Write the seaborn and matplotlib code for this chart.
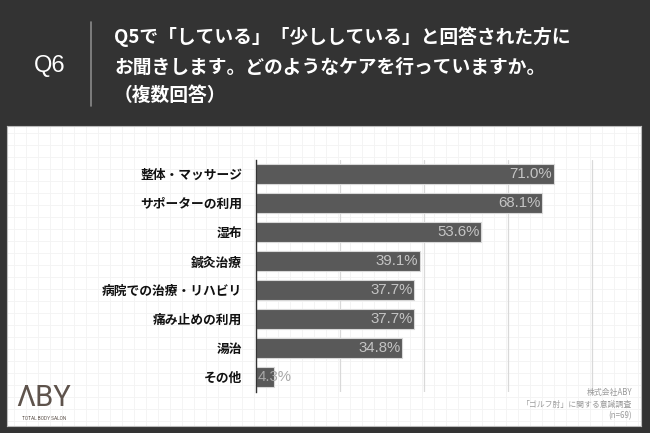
import matplotlib
matplotlib.use("Agg")
import matplotlib.pyplot as plt
import seaborn as sns
import pandas as pd
import numpy as np

# ---- data ----
categories = ["整体・マッサージ", "サポーターの利用", "湿布", "鍼灸治療",
              "病院での治療・リハビリ", "痛み止めの利用", "湯治", "その他"]
values = [71.0, 68.1, 53.6, 39.1, 37.7, 37.7, 34.8, 4.3]
value_labels = ["71.0%", "68.1%", "53.6%", "39.1%", "37.7%", "37.7%", "34.8%", "4.3%"]
x_ticks = [0, 20, 40, 60, 80]
title_lines = ["Q5で「している」「少ししている」と回答された方に",
               "お聞きします。どのようなケアを行っていますか。",
               "（複数回答）"]
question_no = "Q6"
footer_lines = ["株式会社ABY", "「ゴルフ肘」に関する意識調査", "(n=69)"]

sns.set_theme(style="white")
JP = ["Noto Sans CJK JP", "DejaVu Sans"]
plt.rcParams["font.family"] = JP

W, H = 650, 433
fig = plt.figure(figsize=(W / 100, H / 100), dpi=100, facecolor="#333333")


def px_axes(x0, y0, x1, y1, **kw):
    return fig.add_axes([x0 / W, 1 - y1 / H, (x1 - x0) / W, (y1 - y0) / H], **kw)


# white panel + faint graph-paper background (drawn in a background axes)
bg = px_axes(7, 126, 641, 426)
bg.set_zorder(-5)
bg.set_xlim(0, 634)
bg.set_ylim(300, 0)
bg.set_facecolor("white")
for xx in np.arange(7, 634, 12):
    bg.axvline(xx, color="#f3f3f3", lw=0.6)
for yy in np.arange(7, 300, 12):
    bg.axhline(yy, color="#f3f3f3", lw=0.6)
bg.set_xticks([])
bg.set_yticks([])
for s in bg.spines.values():
    s.set_color("#bbbbbb")
    s.set_linewidth(0.8)

# header
fig.text(49.5 / W, 1 - 66 / H, question_no, color="white", fontsize=17,
         ha="center", va="center", family=["Liberation Sans", "DejaVu Sans"])
fig.add_artist(plt.Line2D([91 / W, 91 / W], [1 - 22 / H, 1 - 106 / H],
                          transform=fig.transFigure, color="#8a8a8a", lw=1.2))
for i, (line, yy) in enumerate(zip(title_lines, [37, 67, 95])):
    fig.text(114 / W, 1 - yy / H, line, color="white", fontsize=13.5,
             fontweight="bold", ha="left", va="center", family=JP)

# main chart
df = pd.DataFrame({"category": categories, "value": values})
ax = px_axes(256, 159.5, 638, 391.5)
ax.set_facecolor("none")
sns.barplot(data=df, x="value", y="category", orient="h", color="#595959",
            width=0.69, edgecolor="#d8d8d8", linewidth=0.8, saturation=1, ax=ax)
ax.set_xlim(0, 91)
ax.set_ylim(7.5, -0.5)
ax.set_xticks(x_ticks)
ax.xaxis.grid(True, color="#d9d9d9", lw=0.9)
ax.set_axisbelow(True)
ax.tick_params(axis="x", length=0, labelbottom=False)
ax.tick_params(axis="y", length=0, pad=10)
ax.set_xlabel("")
ax.set_ylabel("")
for lab in ax.get_yticklabels():
    lab.set_fontweight("bold")
    lab.set_fontsize(9.2)
    lab.set_color("#111111")
for s in ["top", "right", "bottom"]:
    ax.spines[s].set_visible(False)
ax.spines["left"].set_color("#333333")
ax.spines["left"].set_linewidth(1.0)

for i, (v, t) in enumerate(zip(values, value_labels)):
    if v < 10:
        ax.text(0.4, i, t, ha="left", va="center", color="#a8a8a8", fontsize=10.8,
                family=["Liberation Sans", "DejaVu Sans"])
    else:
        ax.text(v - 0.4, i, t, ha="right", va="center", color="#c4c4c4", fontsize=10.8,
                family=["Liberation Sans", "DejaVu Sans"])

# logo
fig.text(44 / W, 1 - 398 / H, "ΛBY", color="#5e534c", fontsize=21,
         ha="center", va="center",
         family=["Liberation Sans Narrow", "Roboto", "DejaVu Sans"])
fig.text(44 / W, 1 - 418 / H, "TOTAL BODY SALON", color="#5e534c", fontsize=3.4,
         ha="center", va="center", family=["Roboto", "DejaVu Sans"])

# footer
for line, yy in zip(footer_lines, [393, 404.5, 416]):
    fig.text(632 / W, 1 - yy / H, line, color="#9a9a9a", fontsize=5.7,
             ha="right", va="center", family=JP)

fig.savefig("out.png", dpi=100, facecolor=fig.get_facecolor())
